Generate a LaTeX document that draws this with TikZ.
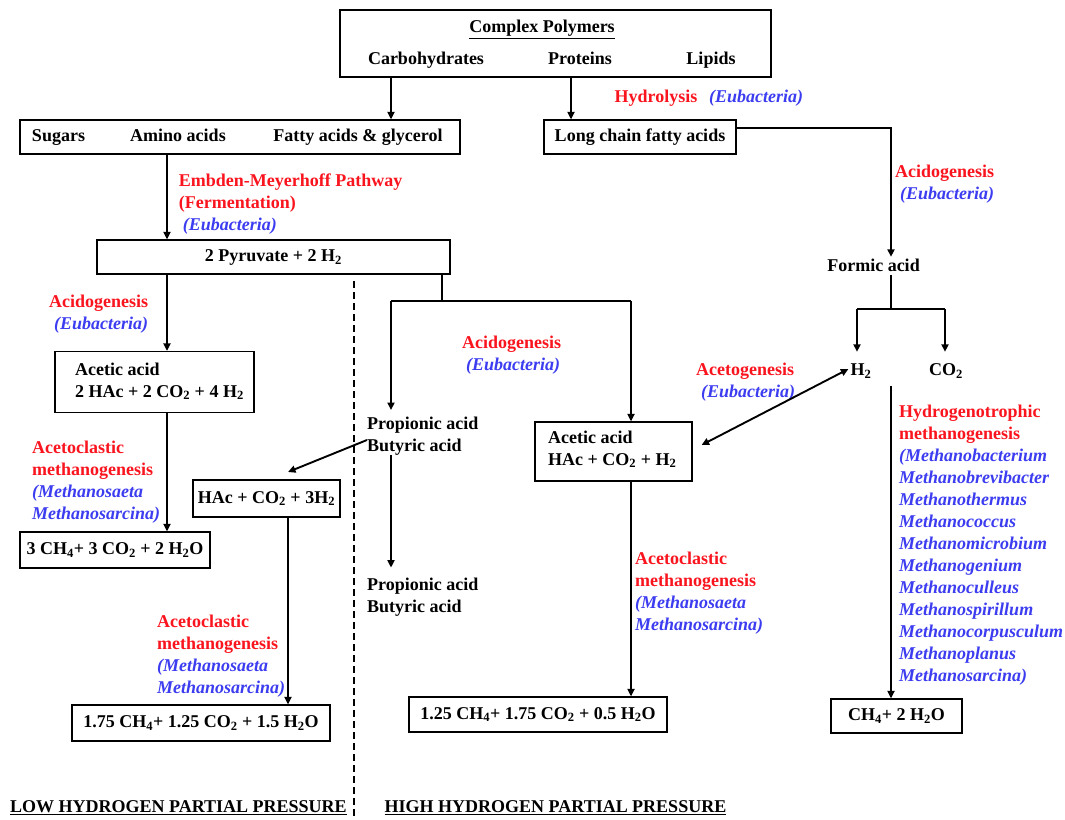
\documentclass[tikz,border=0pt]{standalone}
\usepackage{fontspec}
\setmainfont{Liberation Serif}
\usetikzlibrary{arrows.meta,calc}
\definecolor{lred}{RGB}{250,20,30}
\definecolor{lblue}{RGB}{60,60,240}
\newcommand\sbs[1]{\textsubscript{#1}}
\newcommand\bl[1]{\textcolor{lblue}{\itshape #1}}
\begin{document}
\begin{tikzpicture}[x=1pt,y=-1pt,
  font=\fontsize{18}{22}\selectfont\bfseries,
  box/.style={draw,line width=1.2pt,inner sep=0pt,text height=12.5pt,text depth=3.5pt},
  ctr/.style={inner sep=0pt,text height=12.5pt,text depth=3.5pt},
  lab/.style={inner sep=0pt,anchor=north west,align=left,text=lred},
  blab/.style={inner sep=0pt,anchor=north west,align=left,text=lblue,font=\fontsize{18}{22}\selectfont\bfseries\itshape},
  eq/.style={inner sep=0pt,anchor=north west,align=left},
  arr/.style={line width=1.9pt,-{Triangle[length=7.5pt,width=7pt]}},
  ln/.style={line width=1.9pt},
  dbl/.style={line width=1.9pt,{Triangle[length=7.5pt,width=7pt]}-{Triangle[length=7.5pt,width=7pt]}}
]
\useasboundingbox (0,0) rectangle (1065,819);

% ---- boxes and texts
\node[box,minimum width=431pt,minimum height=67pt] (cplx) at (555.5,43.5) {};
\node[ctr] (cptitle) at (542,28) {\underline{Complex Polymers}};
\node[ctr] (carb) at (426,60) {Carbohydrates};
\node[ctr] (prot) at (580,60) {Proteins};
\node[ctr] (lip) at (711,60) {Lipids};

\node[box,minimum width=440pt,minimum height=34pt] (sugbox) at (240,137) {};
\node[ctr] (sug) at (58.5,137) {Sugars};
\node[ctr] (amino) at (178,137) {Amino acids};
\node[ctr] (fatty) at (358,137) {Fatty acids \& glycerol};

\node[box,minimum width=192pt,minimum height=34pt] (lcfa) at (640,137) {Long chain fatty acids};

\node[box,minimum width=353pt,minimum height=34pt] (pyr) at (273.5,257) {2 Pyruvate + 2 H\sbs{2}};

\node[box,minimum width=199pt,minimum height=61pt] (ac1) at (154.5,382) {};
\node[eq] (ac1t) at (75,359.6) {\strut Acetic acid\\2 HAc + 2 CO\sbs{2} + 4 H\sbs{2}};

\node[box,minimum width=190pt,minimum height=36pt] (ch4a) at (115,550) {3 CH\sbs{4}+ 3 CO\sbs{2} + 2 H\sbs{2}O};
\node[box,minimum width=147pt,minimum height=37pt] (hac3) at (266.5,498.5) {HAc + CO\sbs{2} + 3H\sbs{2}};
\node[box,minimum width=258pt,minimum height=36pt] (b175) at (201,723) {1.75 CH\sbs{4}+ 1.25 CO\sbs{2} + 1.5 H\sbs{2}O};

\node[eq] (prop1) at (367,413.6) {\strut Propionic acid\\Butyric acid};
\node[eq] (prop2) at (367,574.6) {\strut Propionic acid\\Butyric acid};

\node[box,minimum width=157pt,minimum height=59pt] (ac2) at (613.5,451.5) {};
\node[eq] (ac2t) at (548,427.6) {\strut Acetic acid\\HAc + CO\sbs{2} + H\sbs{2}};
\node[box,minimum width=258pt,minimum height=35pt] (b125) at (538,714.5) {1.25 CH\sbs{4}+ 1.75 CO\sbs{2} + 0.5 H\sbs{2}O};

\node[ctr] (formic) at (873.5,267) {Formic acid};
\node[ctr] (h2) at (861,371) {H\sbs{2}};
\node[ctr] (co2) at (946,371) {CO\sbs{2}};
\node[box,minimum width=131pt,minimum height=34pt] (ch4b) at (896.5,716) {CH\sbs{4}+ 2 H\sbs{2}O};

% ---- labels
\node[lab] (hydl) at (614.5,86.6) {\strut Hydrolysis};
\node[blab] (hydb) at (709,86.6) {\strut (Eubacteria)};
\node[lab] (emb) at (178.6,170.6) {\strut Embden-Meyerhoff Pathway\\(Fermentation)\\\hspace*{4pt}\bl{(Eubacteria)}};
\node[lab] (acidr) at (895,161.6) {\strut Acidogenesis\\\hspace*{5pt}\bl{(Eubacteria)}};
\node[lab] (acidl) at (49,291.6) {\strut Acidogenesis\\\hspace*{5pt}\bl{(Eubacteria)}};
\node[lab] (acidm) at (462,332.6) {\strut Acidogenesis\\\hspace*{4pt}\bl{(Eubacteria)}};
\node[lab] (acetog) at (696,359.6) {\strut Acetogenesis\\\hspace*{5pt}\bl{(Eubacteria)}};
\node[lab] (aclast1) at (32,437.6) {\strut Acetoclastic\\methanogenesis\\\bl{(Methanosaeta}\\\bl{Methanosarcina)}};
\node[lab] (aclast2) at (635,548.6) {\strut Acetoclastic\\methanogenesis\\\bl{(Methanosaeta}\\\bl{Methanosarcina)}};
\node[lab] (aclast3) at (157,611.6) {\strut Acetoclastic\\methanogenesis\\\bl{(Methanosaeta}\\\bl{Methanosarcina)}};
\node[lab] (hydro) at (899,401.6) {\strut Hydrogenotrophic\\methanogenesis\\\bl{(Methanobacterium}\\\bl{Methanobrevibacter}\\\bl{Methanothermus}\\\bl{Methanococcus}\\\bl{Methanomicrobium}\\\bl{Methanogenium}\\\bl{Methanoculleus}\\\bl{Methanospirillum}\\\bl{Methanocorpusculum}\\\bl{Methanoplanus}\\\bl{Methanosarcina)}};

\node[eq] (low) at (10,796.6) {\strut\underline{LOW HYDROGEN PARTIAL PRESSURE}};
\node[eq] (high) at (384.5,796.6) {\strut\underline{HIGH HYDROGEN PARTIAL PRESSURE}};

% ---- coordinates
\coordinate (lcfaturn) at (891,128);
\coordinate (pyrj) at (442,301);
\coordinate (bl) at (391,301);
\coordinate (br) at (631,301);
\coordinate (hacin) at (288,472);
\coordinate (fj) at (891,309);
\coordinate (fl) at (857,309);
\coordinate (fr) at (945,309);
\coordinate (hs) at (891,386);
\coordinate (dtop) at (354,281);
\coordinate (dbot) at (354,819);

% ---- connectors
\draw[arr] (cplx.south -| 391,0) -- (sugbox.north -| 391,0);
\draw[arr] (cplx.south -| 571,0) -- (lcfa.north -| 571,0);
\draw[arr,shorten >=2pt] (lcfa.east |- lcfaturn) -- (lcfaturn) -- (formic.north -| lcfaturn);
\draw[arr] (sugbox.south -| 167,0) -- (pyr.north -| 167,0);
\draw[arr] (pyr.south -| 167,0) -- (ac1.north -| 167,0);
\draw[ln] (pyr.south -| pyrj) -- (pyrj);
\draw[ln] (bl) -- (br);
\draw[arr,shorten >=3.6pt] (bl) -- (prop1.north -| bl);
\draw[arr] (br) -- (ac2.north -| br);
\draw[arr] (ac1.south -| 167,0) -- (ch4a.north -| 167,0);
\draw[arr] (prop1.west |- 0,440) -- (hacin);
\draw[arr,shorten >=7pt] (prop1.south -| bl) -- (prop2.north -| bl);
\draw[arr] (hac3.south -| 288,0) -- (b175.north -| 288,0);
\draw[arr] (ac2.south -| br) -- (b125.north -| br);
\draw[dbl] ($(ac2.east)+(9,-6.5)$) -- ($(h2.west)+(-2,-2)$);
\draw[ln] (formic.south -| fj) -- (fj);
\draw[ln] (fl) -- (fr);
\draw[arr,shorten >=11pt] (fl) -- (h2.north -| fl);
\draw[arr,shorten >=11pt] (fr) -- (co2.north -| fr);
\draw[arr] (hs) -- (ch4b.north -| hs);
\draw[line width=2.2pt,dash pattern=on 7pt off 4pt] (dtop) -- (dbot);
\end{tikzpicture}
\end{document}
